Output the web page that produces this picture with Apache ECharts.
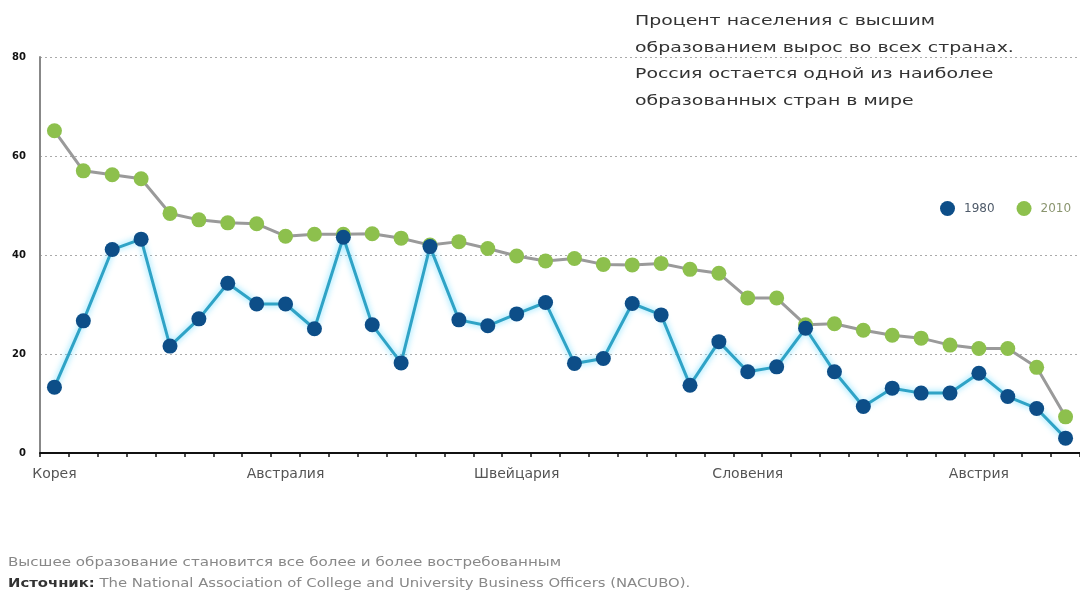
<!DOCTYPE html>
<html>
<head>
<meta charset="utf-8">
<script src="https://cdn.jsdelivr.net/npm/echarts@6/dist/echarts.min.js"></script>
<style>
  html, body { margin: 0; padding: 0; background: #fff; }
  #chart { width: 1080px; height: 592px; }
</style>
</head>
<body>
<div id="chart"></div>
<script>
// Countries ordered by 2010 share; only every 8th name is printed on the axis
const categories = [
  'Корея', 'к2', 'к3', 'к4', 'к5', 'к6', 'к7', 'к8',
  'Австралия', 'к10', 'к11', 'к12', 'к13', 'к14', 'к15', 'к16',
  'Швейцария', 'к18', 'к19', 'к20', 'к21', 'к22', 'к23', 'к24',
  'Словения', 'к26', 'к27', 'к28', 'к29', 'к30', 'к31', 'к32',
  'Австрия', 'к34', 'к35', 'к36'
];

// Share of population with higher education, %
const values1980 = [
  13.3, 26.7, 41.1, 43.2, 21.6, 27.1, 34.3, 30.1, 30.1, 25.1, 43.6, 25.9,
  18.2, 41.7, 26.9, 25.7, 28.1, 30.4, 18.1, 19.1, 30.2, 27.9, 13.7, 22.5,
  16.4, 17.4, 25.2, 16.4, 9.4, 13.1, 12.1, 12.1, 16.1, 11.4, 9.0, 3.0
];
const values2010 = [
  65.1, 57.0, 56.2, 55.4, 48.4, 47.1, 46.5, 46.3, 43.8, 44.2, 44.2, 44.3,
  43.4, 42.0, 42.7, 41.3, 39.8, 38.8, 39.3, 38.1, 38.0, 38.3, 37.1, 36.3,
  31.3, 31.3, 25.9, 26.1, 24.8, 23.8, 23.2, 21.8, 21.1, 21.1, 17.3, 7.3
];

const yTicks = { min: 0, max: 80, interval: 20 };

const noteLines = [
  'Процент населения с высшим',
  'образованием вырос во всех странах.',
  'Россия остается одной из наиболее',
  'образованных стран в мире'
];
const footNote = 'Высшее образование становится все более и более востребованным';
const sourceLabel = 'Источник:';
const sourceText = ' The National Association of College and University Business Officers (NACUBO).';

const FONT = '"DejaVu Sans", "Open Sans", sans-serif';

const chart = echarts.init(document.getElementById('chart'), null, { renderer: 'canvas' });

chart.setOption({
  backgroundColor: '#ffffff',
  animation: false,
  textStyle: { fontFamily: FONT },
  grid: { left: 40, right: -10, top: 57, bottom: 139, containLabel: false },
  legend: {
    left: 935,
    top: 196,
    width: 220,
    orient: 'horizontal',
    itemWidth: 15,
    itemHeight: 15,
    itemGap: 22,
    icon: 'circle',
    textStyle: { fontSize: 12, fontFamily: FONT, padding: [0, 0, 0, 4] },
    data: [
      { name: '1980', itemStyle: { color: '#0d4e88' }, textStyle: { color: '#4f5b6a' } },
      { name: '2010', itemStyle: { color: '#8dc04d' }, textStyle: { color: '#8a956f' } }
    ]
  },
  xAxis: {
    type: 'category',
    data: categories,
    boundaryGap: true,
    axisLine: { lineStyle: { color: '#111', width: 2 } },
    axisTick: { show: true, interval: 0, length: 4, lineStyle: { color: '#111', width: 1.5 } },
    axisLabel: {
      interval: 7,
      margin: 14,
      color: '#555',
      fontSize: 14,
      fontFamily: FONT
    },
    splitLine: { show: false }
  },
  yAxis: {
    type: 'value',
    min: yTicks.min,
    max: yTicks.max,
    interval: yTicks.interval,
    axisLine: { show: true, lineStyle: { color: '#888', width: 2 } },
    axisTick: { show: false },
    axisLabel: {
      margin: 14,
      color: '#111',
      fontSize: 10,
      fontWeight: 'bold',
      fontFamily: FONT
    },
    splitLine: { show: true, lineStyle: { color: '#aaa', type: [2, 3], width: 1 } }
  },
  series: [
    {
      name: '2010',
      type: 'line',
      data: values2010,
      symbol: 'circle',
      symbolSize: 15,
      z: 2,
      lineStyle: { color: '#9a9a9a', width: 3 },
      itemStyle: { color: '#8dc04d' }
    },
    {
      name: '1980',
      type: 'line',
      data: values1980,
      symbol: 'circle',
      symbolSize: 15,
      z: 3,
      lineStyle: {
        color: '#2fa3c6',
        width: 3,
        shadowColor: 'rgba(90, 215, 255, 0.9)',
        shadowBlur: 6
      },
      itemStyle: { color: '#0d4e88' }
    }
  ],
  graphic: [
    {
      type: 'text',
      x: 635,
      y: 8,
      scaleX: 1.35,
      style: {
        text: noteLines.join('\n'),
        fill: '#333',
        font: '14px ' + FONT,
        lineHeight: 26.7,
        verticalAlign: 'top'
      }
    },
    {
      type: 'text',
      x: 8,
      y: 557,
      scaleX: 1.26,
      style: {
        text: footNote,
        fill: '#888',
        font: '12px ' + FONT,
        verticalAlign: 'top'
      }
    },
    {
      type: 'text',
      x: 8,
      y: 578,
      scaleX: 1.235,
      style: {
        text: '{b|' + sourceLabel + '}{n|' + sourceText + '}',
        verticalAlign: 'top',
        rich: {
          b: { fill: '#333', font: 'bold 12px ' + FONT },
          n: { fill: '#888', font: '12px ' + FONT }
        }
      }
    }
  ]
});
</script>
</body>
</html>
